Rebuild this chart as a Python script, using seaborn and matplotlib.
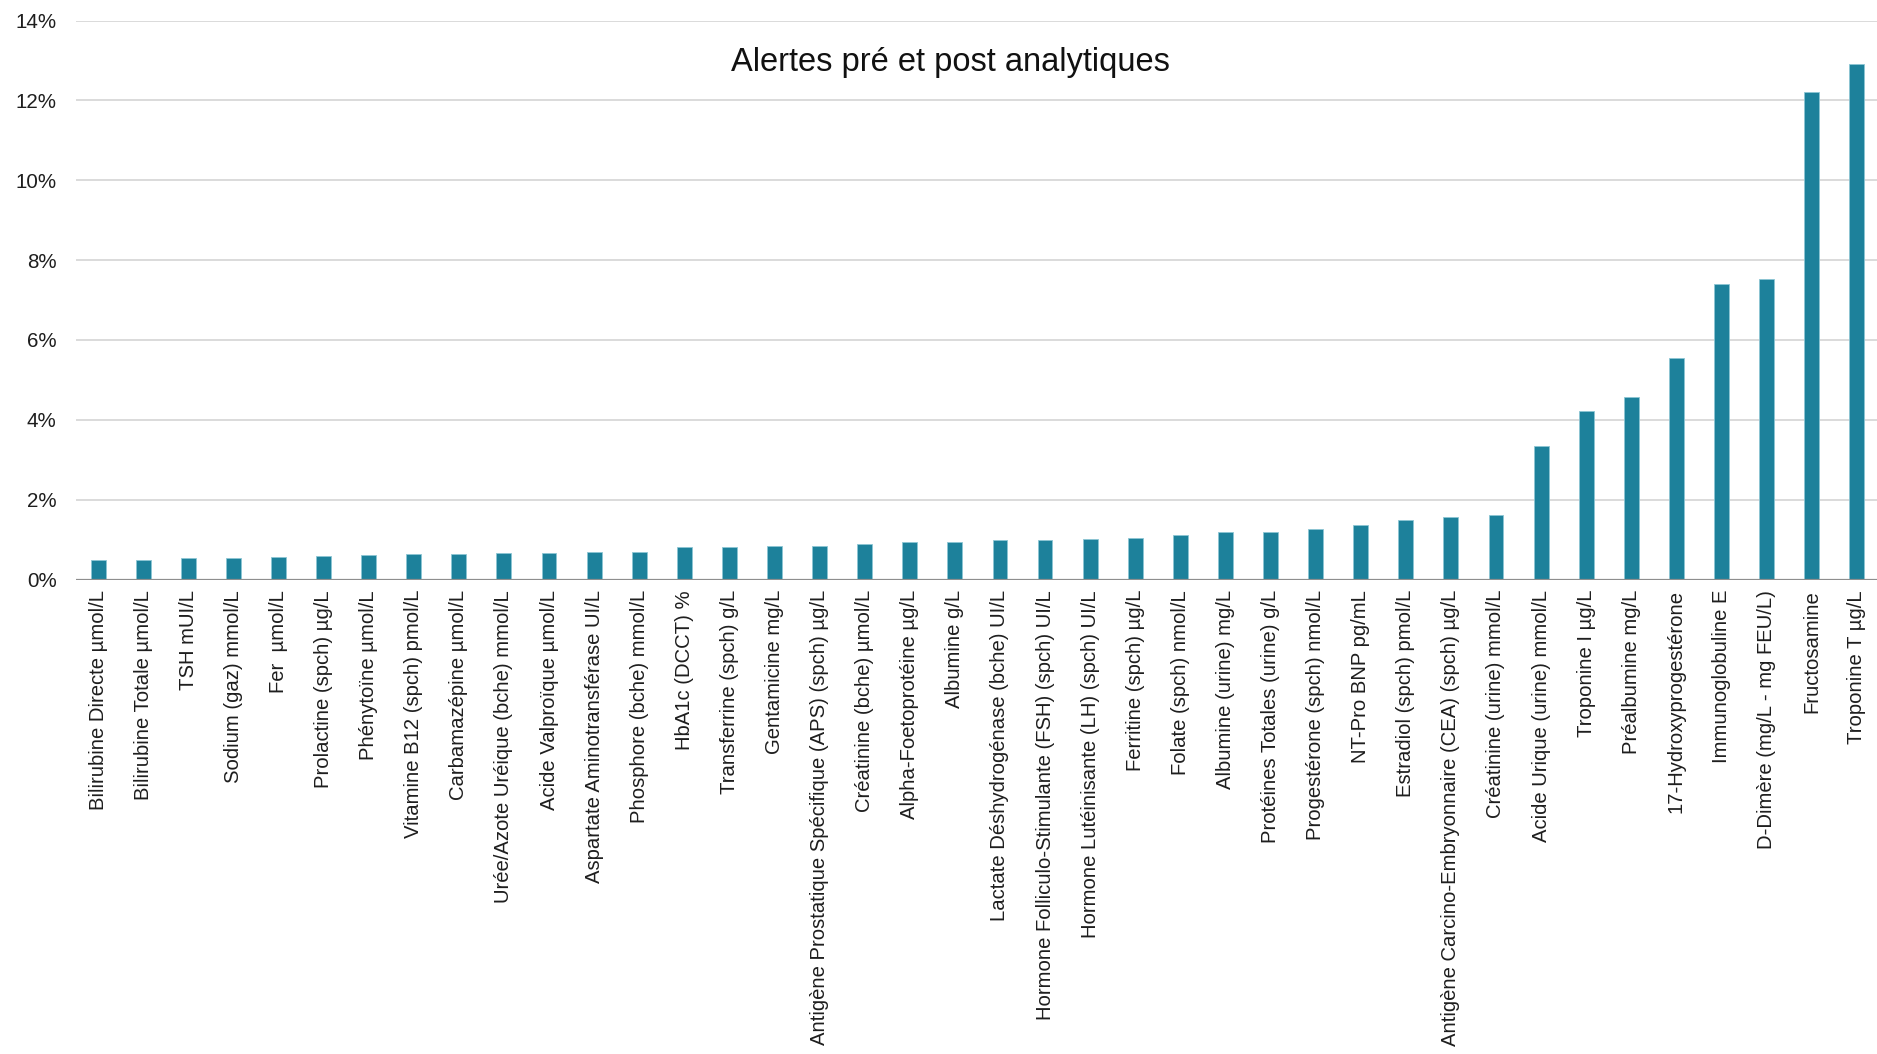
import matplotlib
matplotlib.use("Agg")
import matplotlib.pyplot as plt
import seaborn as sns
import pandas as pd

# Analytes (x categories), sorted by alert rate
categories = [
    "Bilirubine Directe µmol/L",
    "Bilirubine Totale µmol/L",
    "TSH mUI/L",
    "Sodium (gaz) mmol/L",
    "Fer  µmol/L",
    "Prolactine (spch) µg/L",
    "Phénytoïne µmol/L",
    "Vitamine B12 (spch) pmol/L",
    "Carbamazépine µmol/L",
    "Urée/Azote Uréique (bche) mmol/L",
    "Acide Valproïque µmol/L",
    "Aspartate Aminotransférase UI/L",
    "Phosphore (bche) mmol/L",
    "HbA1c (DCCT) %",
    "Transferrine (spch) g/L",
    "Gentamicine mg/L",
    "Antigène Prostatique Spécifique (APS) (spch) µg/L",
    "Créatinine (bche) µmol/L",
    "Alpha-Foetoprotéine µg/L",
    "Albumine g/L",
    "Lactate Déshydrogénase (bche) UI/L",
    "Hormone Folliculo-Stimulante (FSH) (spch) UI/L",
    "Hormone Lutéinisante (LH) (spch) UI/L",
    "Ferritine (spch) µg/L",
    "Folate (spch) nmol/L",
    "Albumine (urine) mg/L",
    "Protéines Totales (urine) g/L",
    "Progestérone (spch) nmol/L",
    "NT-Pro BNP pg/mL",
    "Estradiol (spch) pmol/L",
    "Antigène Carcino-Embryonnaire (CEA) (spch) µg/L",
    "Créatinine (urine) mmol/L",
    "Acide Urique (urine) mmol/L",
    "Troponine I µg/L",
    "Préalbumine mg/L",
    "17-Hydroxyprogestérone",
    "Immunoglobuline E",
    "D-Dimère (mg/L - mg FEU/L)",
    "Fructosamine",
    "Troponine T µg/L",
]

# Alert rate in percent
alert_pct = [
    0.48, 0.50, 0.54, 0.55, 0.56, 0.59, 0.61, 0.64, 0.65, 0.66,
    0.66, 0.68, 0.70, 0.81, 0.82, 0.84, 0.85, 0.88, 0.94, 0.94,
    0.99, 1.00, 1.01, 1.04, 1.11, 1.19, 1.20, 1.27, 1.37, 1.49,
    1.56, 1.61, 3.35, 4.23, 4.58, 5.55, 7.40, 7.52, 12.22, 12.91,
]

y_ticks = [0, 2, 4, 6, 8, 10, 12, 14]
title = "Alertes pré et post analytiques"

df = pd.DataFrame({"analyte": categories, "pct": alert_pct})

sns.set_theme(style="white")
plt.rcParams["font.family"] = ["Liberation Sans", "DejaVu Sans"]
text_color = "#1e1e1e"

W, H = 1877, 1054
fig = plt.figure(figsize=(W / 100, H / 100), dpi=100)
left, right, top, bottom = 76, 1877, 20.6, 579.5
ax = fig.add_axes([left / W, 1 - bottom / H, (right - left) / W, (bottom - top) / H])

sns.barplot(
    data=df, x="analyte", y="pct", ax=ax,
    color="#1d819b", saturation=1, width=0.33,
    edgecolor="#8cc6d4", linewidth=0.6, zorder=2,
)

ax.set_xlim(-0.49, len(categories) - 0.55)
ax.set_ylim(0, 14)
ax.set_yticks(y_ticks)
ax.set_yticklabels([f"{t}%" for t in y_ticks])
ax.yaxis.grid(True, color="#dadada", linewidth=1.4, zorder=0)
ax.set_axisbelow(True)
ax.axhline(0, color="#8e8e8e", linewidth=1.6, zorder=3)

for s in ax.spines.values():
    s.set_visible(False)

ax.tick_params(axis="y", length=0, pad=14, labelsize=14.8, labelcolor=text_color)
ax.tick_params(axis="x", length=0, pad=7.5, labelsize=14.6, labelcolor=text_color)
plt.setp(ax.get_xticklabels(), rotation=90, ha="center", va="top")
ax.set_xlabel("")
ax.set_ylabel("")

fig.text(950 / W, 1 - 63 / H, title, ha="center", va="center",
         fontsize=23.5, color="#111111")

fig.savefig("out.png", dpi=100, facecolor="white")
